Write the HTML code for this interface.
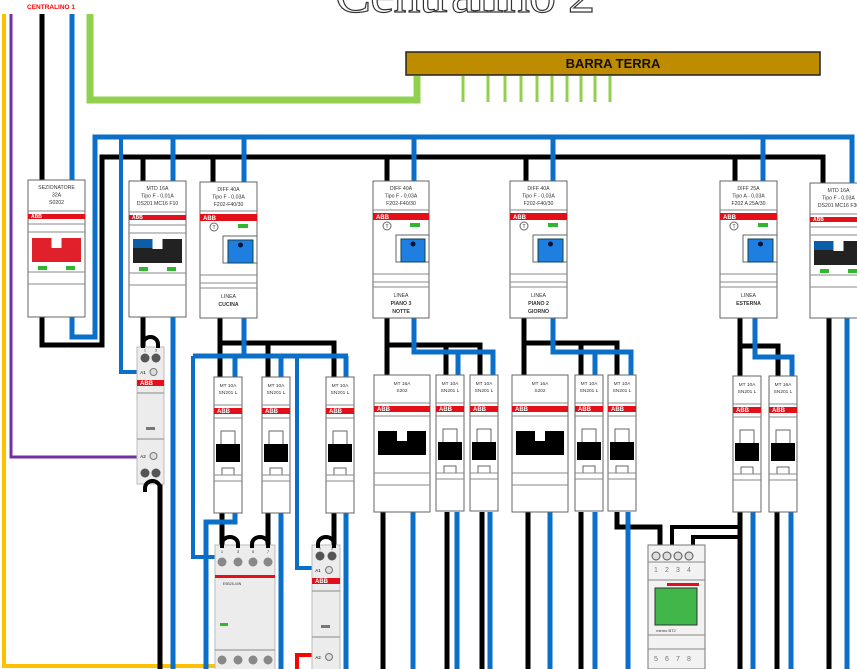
<!DOCTYPE html>
<html><head><meta charset="utf-8"><style>
html,body{margin:0;padding:0;background:#fff;width:857px;height:669px;overflow:hidden}
svg{display:block;font-family:"Liberation Sans",sans-serif}
</style></head><body>
<svg id="s" width="857" height="669" viewBox="0 0 857 669" xmlns="http://www.w3.org/2000/svg">
<text x="335" y="12" font-family="Liberation Serif,serif" font-size="54" fill="#fff" stroke="#333" stroke-width="1.2" textLength="260">Centralino 2</text>
<text x="27" y="9" font-size="6.5" font-weight="bold" fill="#ff0000">CENTRALINO 1</text>
<rect x="406" y="52" width="414" height="23" fill="#bf8c00" stroke="#222" stroke-width="1.5"/>
<text x="613" y="68" font-size="13" font-weight="bold" text-anchor="middle" fill="#111">BARRA TERRA</text>
<g id="wires" fill="none" stroke-linejoin="miter"></g>
<g id="mods"></g>
<g id="wires2" fill="none"></g>
</svg>
<script>
const NS="http://www.w3.org/2000/svg";
const wires=document.getElementById('wires'),mods=document.getElementById('mods'),w2=document.getElementById('wires2');
function el(p,tag,a,txt){const e=document.createElementNS(NS,tag);for(const k in a)e.setAttribute(k,a[k]);if(txt!==undefined)e.textContent=txt;p.appendChild(e);return e;}
const BL="#0a6fc8",BK="#000",GR="#92d050";
function W(pts,c,w,p){el(p||wires,'polyline',{points:pts,stroke:c,'stroke-width':w||5,fill:'none'});}
// yellow, purple
W("4,14 4,666 216,666","#ffc000",4);
W("11,14 11,457 138,457","#7030a0",3);
W("42,14 42,182",BK);W("72,14 72,182",BL);
W("90,14 90,100 417,100 417,76",GR,7);
[463,488,505,521,537,552,567,581,595,610].forEach(x=>W(x+",76 "+x+",102",GR,3));
W("72,317 72,337 95,337 95,137 852,137 852,184",BL);
W("42,317 42,345 102,345 102,157 823,157 823,184",BK);
[[143,173],[213,244],[387,414],[526,553],[735,763]].forEach(([b,u])=>{W(b+",157 "+b+",183",BK);W(u+",137 "+u+",183",BL);});
W("121,137 121,372 140,372",BL,4);
W("143,317 143,349",BK);W("173,317 173,669",BL);W("160,484 160,669",BK);
// cucina
W("220,318 220,343 334,343 334,378",BK);W("268,343 268,378",BK);W("220,343 220,378",BK);
W("244,318 244,356",BL);W("193,356 348,356",BL);W("235,356 235,378",BL);W("281,356 281,378",BL);W("346,356 346,378",BL);
W("193,356 193,557 217,557",BL,4);W("297,356 297,568 316,568",BL,4);
W("222,513 222,548",BK);W("268,513 268,548",BK);W("334,513 334,548",BK);
W("235,513 235,522 206,522 206,669",BL);W("281,513 281,669",BL);W("346,513 346,669",BL);
W("312,655 297,655 297,669","#ff0000",4);
// notte
W("387,318 387,345 480,345 480,376",BK);W("446,345 446,376",BK);W("387,345 387,376",BK);
W("414,318 414,352 493,352 493,376",BL);W("458,352 458,376",BL);
[[383,413],[447,457],[482,490]].forEach(([b,u])=>{W(b+",512 "+b+",669",BK);W(u+",512 "+u+",669",BL);});
// giorno
W("524,318 524,343 617,343 617,376",BK);W("581,343 581,376",BK);W("524,343 524,376",BK);
W("553,318 553,352 631,352 631,376",BL);W("595,352 595,376",BL);
W("528,512 528,669",BK);W("550,512 550,669",BL);W("581,512 581,669",BK);W("595,512 595,669",BL);
W("617,512 617,527 660,527 660,546",BK);W("628,512 628,669",BL);
// esterna
W("740,318 740,346 778,346 778,378",BK);W("740,346 740,378",BK);
W("755,318 755,357 792,357 792,378",BL);
W("740,512 740,669",BK);W("740,527 672,527 672,546",BK,4);W("740,537 693,537 693,546",BK,4);
W("753,512 753,669",BL);W("777,512 777,669",BK);W("791,512 791,669",BL);
W("829,318 829,669",BK);W("847,318 847,669",BL);
// arcs
function arc(x1,x2,y){el(w2,'path',{d:`M${x1},${y+8} v-4 a${(x2-x1)/2},7 0 0 1 ${x2-x1},0 v4`,stroke:BK,'stroke-width':4,fill:'none'});}
arc(222,238,540);arc(252,268,540);arc(318,334,540);arc(143,158,340);arc(145,160,484);

function R(x,y,w,h,a){return el(mods,'rect',Object.assign({x,y,width:w,height:h,fill:'#fff',stroke:'#666','stroke-width':1},a||{}));}
function T(x,y,t,s,b,c){return el(mods,'text',{x,y,'font-size':s||5,'text-anchor':'middle','font-weight':b?'bold':'normal',fill:c||'#333'},t);}
function HL(x,y,w){el(mods,'line',{x1:x,y1:y,x2:x+w,y2:y,stroke:'#888','stroke-width':1});}
function red(x,y,w,h){R(x,y,w,h,{fill:'#e3101a',stroke:'none'});el(mods,'text',{x:x+3,y:y+h-1,'font-size':Math.min(6,h),'font-weight':'bold',fill:'#fff'},'ABB');}
function diff(x,y,w,h,l,b){R(x,y,w,h);l.forEach((t,i)=>T(x+w/2,y+9+i*7.5,t,5.2));HL(x,y+29,w);red(x,y+32,w,7);
 el(mods,'circle',{cx:x+14,cy:y+45,r:4,fill:'#fff',stroke:'#666'});T(x+14,y+47,'T',5);R(x+w-19,y+42,10,4,{fill:'#2eb82e',stroke:'none'});
 R(x+23,y+54,w-23,27);R(x+28,y+58,w-32,23,{fill:'#1e7fe0',stroke:'#145'});el(mods,'circle',{cx:x+w/2+12,cy:y+63,r:2.5,fill:'#013',stroke:'none'});
 HL(x,y+93,w);HL(x,y+101,w);HL(x,y+106,w);b.forEach((t,i)=>T(x+w/2,y+116+i*8,t,5.2,i>0));}
function mtd(x,y,w,h,l,c1,c2){R(x,y,w,h);l.forEach((t,i)=>T(x+w/2,y+9+i*7.5,t,5.2));HL(x,y+31,w);red(x,y+34,w,5);HL(x,y+44,w);HL(x,y+52,w);
 R(x+4,y+58,w-8,24,{fill:c2,stroke:'none'});R(x+4,y+58,(w-8)/2-4,9,{fill:c1,stroke:'none'});R(x+w/2-5,y+58,10,10,{fill:'#fff',stroke:'none'});
 R(x+10,y+86,9,4,{fill:'#2eb82e',stroke:'none'});R(x+w-19,y+86,9,4,{fill:'#2eb82e',stroke:'none'});HL(x,y+92,w);HL(x,y+104,w);}
function mts(x,y,w,h,l){R(x,y,w,h);l.forEach((t,i)=>T(x+w/2,y+10+i*7,t,4.8));HL(x,y+28,w);red(x,y+31,w,6);HL(x,y+41,w);
 R(x+7,y+54,w-14,14);R(x+2,y+67,w-4,18,{fill:'#000',stroke:'none'});R(x+8,y+91,w-16,7);HL(x,y+98,w);HL(x,y+104,w);}
function s202(x,y,w,h,l){R(x,y,w,h);l.forEach((t,i)=>T(x+w/2,y+10+i*7,t,4.8));HL(x,y+28,w);red(x,y+31,w,6);HL(x,y+41,w);
 R(x+4,y+56,w-8,24,{fill:'#000',stroke:'none'});R(x+w/2-5,y+56,10,10,{fill:'#fff',stroke:'none'});HL(x,y+98,w);HL(x,y+110,w);}
mtd(28,180,57,137,['SEZIONATORE','32A','S0202'],'#e0202a','#e0202a');
mtd(129,181,57,136,['MTD 16A','Tipo F - 0,01A','DS201 MC16 F10'],'#0b5fa8','#222');
mtd(810,183,57,135,['MTD 16A','Tipo F - 0,03A','DS201 MC16 F30'],'#0b5fa8','#222');
diff(200,182,57,136,['DIFF 40A','Tipo F - 0,03A','F202-F40/30'],['LINEA','CUCINA']);
diff(373,181,56,137,['DIFF 40A','Tipo F - 0,03A','F202-F40/30'],['LINEA','PIANO 3','NOTTE']);
diff(510,181,57,137,['DIFF 40A','Tipo F - 0,03A','F202-F40/30'],['LINEA','PIANO 2','GIORNO']);
diff(720,181,57,137,['DIFF 25A','Tipo A - 0,03A','F202 A 25A/30'],['LINEA','ESTERNA']);
[[214,377],[262,377],[326,377],[436,375],[470,375],[575,375],[608,375],[733,376]].forEach(([x,y])=>mts(x,y,28,136,['MT 10A','SN201 L']));
mts(769,376,28,136,['MT 16A','SN201 L']);
s202(374,375,56,137,['MT 16A','S202']);s202(512,375,56,137,['MT 16A','S202']);
// relays / contactors
function relay(x,y,w,h,top,bot){R(x,y,w,h,{fill:'#ececec',stroke:'#bbb'});
 [x+8,x+w-8].forEach(cx=>{el(mods,'circle',{cx,cy:y+11,r:4.5,fill:'#555'});el(mods,'circle',{cx,cy:y+h-11,r:4.5,fill:'#555'});});
 T(x+8,y+4.5,'1',4);T(x+w-8,y+4.5,'3',4);
 el(mods,'circle',{cx:x+w/2+3,cy:y+25,r:3.5,fill:'#ddd',stroke:'#777'});T(x+6,y+27,'A1',4.5,0,'#000');
 red(x,y+33,w,6);HL(x,y+46,w);R(x+9,y+80,9,3,{fill:'#777',stroke:'none'});HL(x,y+92,w);
 el(mods,'circle',{cx:x+w/2+3,cy:y+h-28,r:3.5,fill:'#ddd',stroke:'#777'});T(x+6,y+h-26,'A2',4.5,0,'#000');}
relay(137,347,27,137);relay(312,545,28,140);
// big contactor
R(215,545,60,130,{fill:'#ececec',stroke:'#bbb'});
[222,238,253,268].forEach(cx=>{el(mods,'circle',{cx,cy:562,r:4.5,fill:'#888'});el(mods,'circle',{cx,cy:660,r:4.5,fill:'#888'});});
['1','3','5','7'].forEach((t,i)=>T([222,238,253,268][i],553,t,4));
R(215,575,60,3,{fill:'#e3101a',stroke:'none'});T(232,585,'ESB25-40N',3.5);
R(220,623,8,3,{fill:'#2eb82e',stroke:'none'});HL(215,650,60);
// memo
R(648,545,57,124,{fill:'#f2f2f2',stroke:'#777'});
[656,667,678,689].forEach(cx=>el(mods,'circle',{cx,cy:556,r:4,fill:'#ddd',stroke:'#555'}));
['1','2','3','4'].forEach((t,i)=>T([656,667,678,689][i],572,t,7,0,'#777'));
HL(648,562,57);HL(648,580,57);R(667,583,32,3,{fill:'#e3101a',stroke:'none'});
R(655,588,42,37,{fill:'#41b649',stroke:'#333'});T(666,632,'memo BT2',4);HL(648,635,57);HL(648,649,57);
['5','6','7','8'].forEach((t,i)=>T([656,667,678,689][i],661,t,7,0,'#777'));
</script>
</body></html>
